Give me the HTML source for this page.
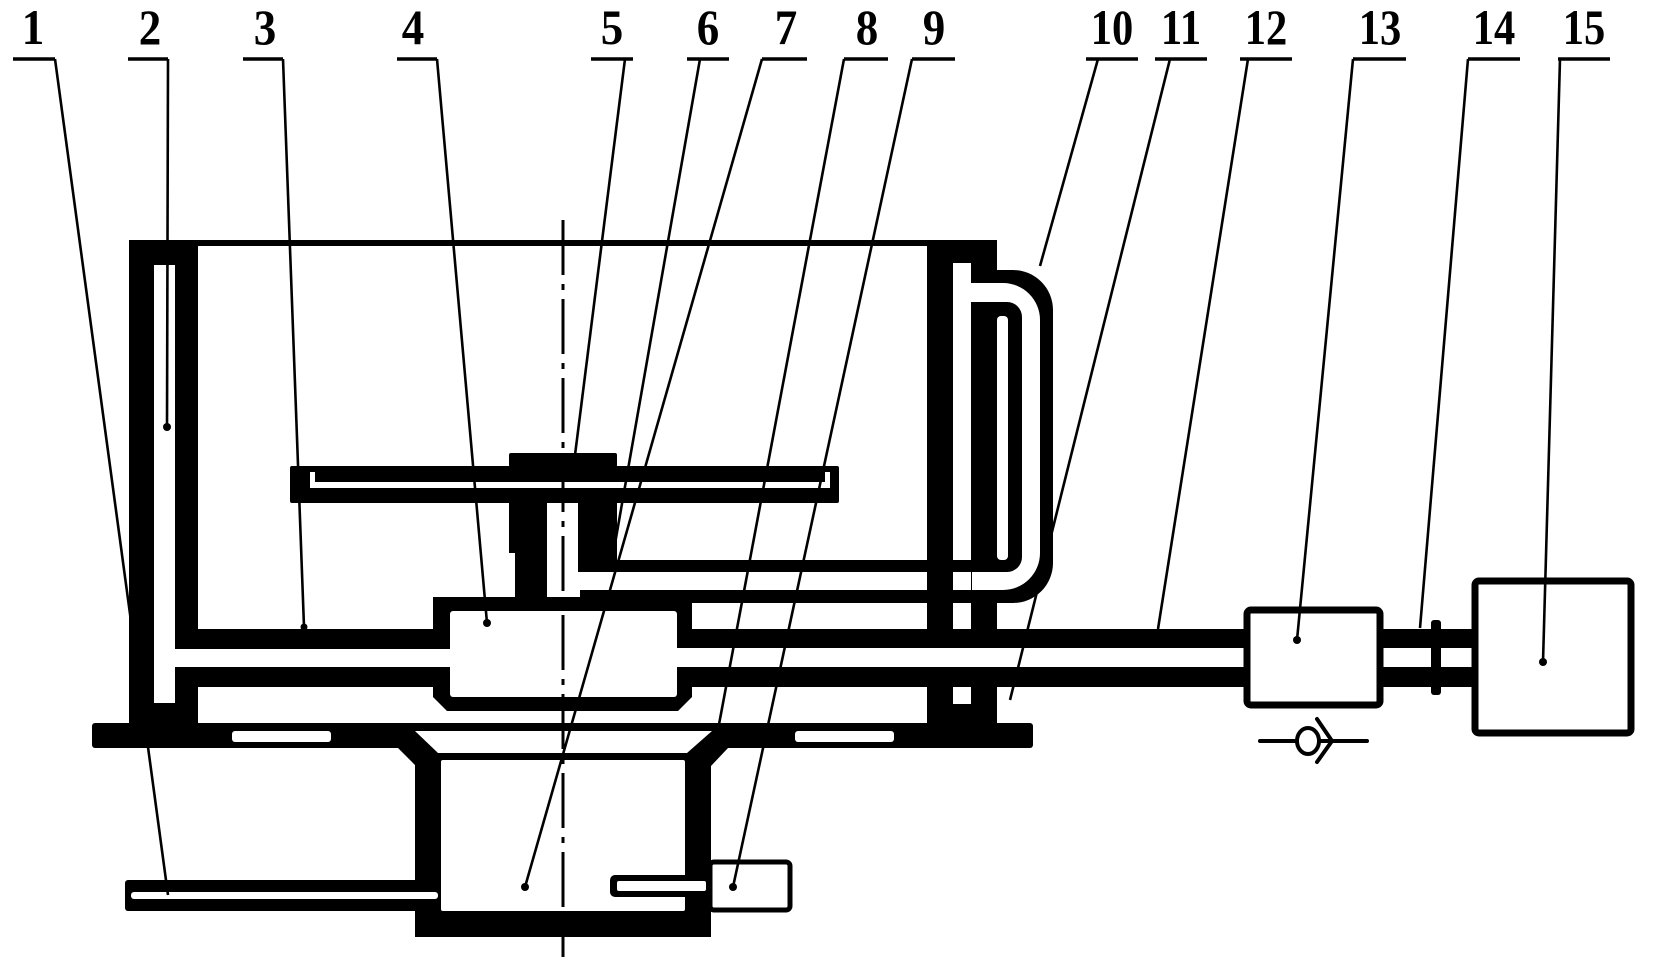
<!DOCTYPE html>
<html><head><meta charset="utf-8"><style>
html,body{margin:0;padding:0;background:#fff;}
svg{display:block;}
</style></head><body>
<svg width="1656" height="979" viewBox="0 0 1656 979" xmlns="http://www.w3.org/2000/svg">
<rect width="1656" height="979" fill="#fff"/>
<g fill="#000" stroke="none">
  <!-- top wall -->
  <rect x="129" y="240" width="866" height="6"/>
  <!-- left outer wall -->
  <rect x="129" y="240" width="25" height="483"/>
  <rect x="129" y="240" width="69" height="25"/>
  <!-- inner bar upper -->
  <rect x="175" y="246" width="23" height="403"/>
  <rect x="175" y="629" width="275" height="20"/>
  <!-- lower duct wall -->
  <rect x="175" y="667" width="275" height="20"/>
  <rect x="175" y="667" width="23" height="56"/>
  <rect x="154" y="703" width="21" height="20"/>
  <!-- chamber 4 -->
  <path d="M433 597 H692 V697 L678 711 H447 L433 697 Z"/>
  <!-- pipe 12 walls -->
  <rect x="677" y="629" width="567" height="19"/>
  <rect x="677" y="667" width="567" height="20"/>
  <!-- frame right columns -->
  <rect x="927" y="240" width="68" height="23"/>
  <rect x="927" y="240" width="26" height="483"/>
  <rect x="971" y="240" width="26" height="43"/>
  <rect x="971" y="302" width="26" height="421"/>
  <rect x="953" y="704" width="18" height="19"/>
  <!-- outer U pipe 10 -->
  <path d="M972 270 H1013 A40 40 0 0 1 1053 310 V563 A40 40 0 0 1 1013 603 H580 V590 H972 Z"/>
</g>
<!-- white channel of 10 -->
<path d="M972 283 H1003 A37 37 0 0 1 1040 320 V553 A37 37 0 0 1 1003 590 H972 Z" fill="#fff"/>
<g fill="#000">
  <path d="M971 302 H1007 A15 15 0 0 1 1022 317 V557 A15 15 0 0 1 1007 572 H578 V560 H971 Z"/>
</g>
<rect x="997" y="316" width="11" height="244" rx="4" fill="#fff"/>
<!-- chamber interior & channels white -->
<rect x="450" y="611" width="227" height="86" rx="3" fill="#fff"/>
<rect x="433" y="649" width="18" height="18" fill="#fff"/>
<rect x="676" y="648" width="568" height="19" fill="#fff"/>
<rect x="972" y="283" width="25" height="19" fill="#fff"/>
<g fill="#000">
  <!-- bar 3/6 stem -->
  <rect x="509" y="503" width="38" height="50"/>
  <rect x="515" y="553" width="32" height="44"/>
  <rect x="578" y="503" width="39" height="57"/>
  <!-- disk -->
  <rect x="290" y="466" width="549" height="37" rx="2"/>
  <rect x="509" y="453" width="108" height="14" rx="2"/>
  <!-- base plate -->
  <rect x="92" y="723" width="941" height="25" rx="3"/>
  <!-- cylinder -->
  <path d="M398 748 L415 765 V937 H711 V766 L728 748 Z"/>
  <!-- left arm -->
  <rect x="125" y="880" width="316" height="31" rx="3"/>
</g>
<g fill="#fff">
  <path d="M310 472 H315 V482 H825 V472 H830 V488 H310 Z"/>
  <rect x="232" y="731" width="99" height="11" rx="3"/>
  <rect x="795" y="731" width="99" height="11" rx="3"/>
  <path d="M415 731 H712 L687 753 H438 Z"/>
  <rect x="441" y="760" width="244" height="151" rx="2"/>
  <rect x="131" y="892" width="307" height="7" rx="3"/>
</g>
<!-- item 9 bracket and box -->
<rect x="710" y="862" width="80" height="48" rx="4" fill="#fff" stroke="#000" stroke-width="5"/>
<rect x="610" y="875" width="100" height="22" rx="5" fill="#000"/>
<rect x="617" y="881" width="89" height="10" rx="2" fill="#fff"/>
<!-- boxes 13 and 15, pipe 14 -->
<g fill="#000">
  <rect x="1383" y="629" width="92" height="19"/>
  <rect x="1383" y="667" width="92" height="20"/>
  <rect x="1431" y="620" width="10" height="75" rx="3"/>
</g>
<rect x="1247" y="610" width="133" height="95" rx="4" fill="#fff" stroke="#000" stroke-width="7"/>
<rect x="1475" y="581" width="156" height="152" rx="4" fill="#fff" stroke="#000" stroke-width="7"/>
<!-- check valve -->
<g stroke="#000" stroke-width="4" fill="none" stroke-linecap="round">
  <line x1="1260" y1="741" x2="1296" y2="741"/>
  <line x1="1320" y1="741" x2="1367" y2="741"/>
  <ellipse cx="1308" cy="741" rx="11" ry="13"/>
  <polyline points="1317,719 1332,741 1317,762"/>
</g>
<!-- centerline -->
<line x1="563" y1="220" x2="563" y2="957" stroke="#000" stroke-width="3" stroke-dasharray="55 9 6 9"/>
<!-- leaders -->
<g stroke="#000" stroke-width="2.6" fill="none">
  <line x1="55" y1="59" x2="168" y2="895"/>
  <line x1="168" y1="59" x2="167" y2="427"/>
  <line x1="283" y1="59" x2="304" y2="627"/>
  <line x1="437" y1="59" x2="487" y2="623"/>
  <line x1="625" y1="59" x2="575" y2="455"/>
  <line x1="700" y1="59" x2="613" y2="555"/>
  <line x1="762" y1="59" x2="525" y2="887"/>
  <line x1="844" y1="59" x2="717" y2="735"/>
  <line x1="912" y1="59" x2="733" y2="887"/>
  <line x1="1098" y1="59" x2="1040" y2="266"/>
  <line x1="1170" y1="59" x2="1010" y2="700"/>
  <line x1="1248" y1="59" x2="1158" y2="629"/>
  <line x1="1353" y1="59" x2="1297" y2="640"/>
  <line x1="1468" y1="59" x2="1420" y2="628"/>
  <line x1="1560" y1="59" x2="1543" y2="662"/>
</g>
<g fill="#000">
  <circle cx="167" cy="427" r="4"/>
  <circle cx="304" cy="627" r="3.5"/>
  <circle cx="487" cy="623" r="4"/>
  <circle cx="613" cy="555" r="4"/>
  <circle cx="525" cy="887" r="4"/>
  <circle cx="733" cy="887" r="4"/>
  <circle cx="1297" cy="640" r="4"/>
  <circle cx="1543" cy="662" r="4"/>
</g>
<!-- underlines -->
<g stroke="#000" stroke-width="3.5" fill="none">
  <line x1="13" y1="59" x2="55" y2="59"/>
  <line x1="128" y1="59" x2="168" y2="59"/>
  <line x1="243" y1="59" x2="283" y2="59"/>
  <line x1="397" y1="59" x2="437" y2="59"/>
  <line x1="591" y1="59" x2="633" y2="59"/>
  <line x1="687" y1="59" x2="729" y2="59"/>
  <line x1="762" y1="59" x2="807" y2="59"/>
  <line x1="844" y1="59" x2="888" y2="59"/>
  <line x1="912" y1="59" x2="955" y2="59"/>
  <line x1="1086" y1="59" x2="1138" y2="59"/>
  <line x1="1155" y1="59" x2="1207" y2="59"/>
  <line x1="1240" y1="59" x2="1292" y2="59"/>
  <line x1="1353" y1="59" x2="1406" y2="59"/>
  <line x1="1468" y1="59" x2="1520" y2="59"/>
  <line x1="1558" y1="59" x2="1610" y2="59"/>
</g>
<g font-family="Liberation Serif, serif" font-weight="bold" font-size="50" text-anchor="middle" fill="#000">
  <text transform="translate(33,44) scale(0.9,1)">1</text>
  <text transform="translate(150,44) scale(0.9,1)">2</text>
  <text transform="translate(265,44) scale(0.9,1)">3</text>
  <text transform="translate(413,44) scale(0.9,1)">4</text>
  <text transform="translate(612,44) scale(0.9,1)">5</text>
  <text transform="translate(708,44) scale(0.9,1)">6</text>
  <text transform="translate(786,44) scale(0.9,1)">7</text>
  <text transform="translate(867,44) scale(0.9,1)">8</text>
  <text transform="translate(934,44) scale(0.9,1)">9</text>
  <text transform="translate(1112,44) scale(0.85,1)">10</text>
  <text transform="translate(1181,44) scale(0.85,1)">11</text>
  <text transform="translate(1266,44) scale(0.85,1)">12</text>
  <text transform="translate(1380,44) scale(0.85,1)">13</text>
  <text transform="translate(1494,44) scale(0.85,1)">14</text>
  <text transform="translate(1584,44) scale(0.85,1)">15</text>
</g>
</svg>
</body></html>
